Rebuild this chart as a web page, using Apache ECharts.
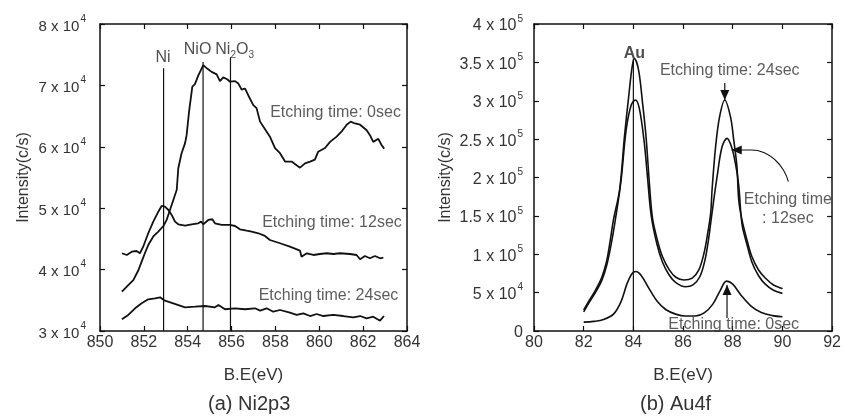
<!DOCTYPE html>
<html>
<head>
<meta charset="utf-8">
<script src="https://cdn.jsdelivr.net/npm/echarts@6/dist/echarts.min.js"></script>
<style>
  html, body { margin: 0; padding: 0; background: #fff; }
  #chart { width: 844px; height: 418px; }
</style>
</head>
<body>
<div id="chart"></div>
<script>
// ---- (a) Ni2p3 spectra: [B.E (eV), intensity (c/s)] ----
const ni0sec = [
  [851.0,36400],[851.3,37500],[851.52,38300],[851.75,39900],[851.9,41300],[852.05,42700],
  [852.2,44000],[852.43,45400],[852.66,46200],[852.89,47100],[853.04,48100],[853.19,49700],
  [853.34,51300],[853.5,53000],[853.57,56500],[853.72,58950],[853.88,60600],[853.95,61900],
  [854.06,65700],[854.21,69800],[854.33,70200],[854.48,71600],[854.71,73300],[854.9,72700],
  [855.09,72200],[855.32,71800],[855.47,70700],[855.62,71300],[855.8,71000],[855.93,70600],
  [856.16,70700],[856.31,70300],[856.46,69300],[856.61,69500],[856.76,68400],[856.99,66800],
  [857.14,66300],[857.3,64100],[857.52,62900],[857.75,61650],[857.98,59800],[858.21,58950],
  [858.44,57600],[858.74,57600],[858.89,57200],[859.12,56600],[859.35,57300],[859.58,57600],
  [859.8,57900],[859.95,59200],[860.26,59800],[860.49,60800],[860.79,61650],[861.02,62500],
  [861.25,63600],[861.43,64100],[861.63,63800],[861.86,63600],[862.16,62700],[862.31,61900],
  [862.46,60800],[862.69,61300],[862.84,60300],[862.96,59700]
];
const ni12sec = [
  [851.0,42660],[851.22,42380],[851.45,42920],[851.67,43030],[851.82,42660],[851.97,43730],
  [852.2,45920],[852.43,47810],[852.66,49430],[852.81,50360],[852.96,50250],[853.12,49710],
  [853.27,48900],[853.42,47810],[853.57,47380],[853.88,47150],[854.18,47380],[854.48,47540],
  [854.61,47810],[854.71,47380],[854.94,48080],[855.12,48200],[855.24,47540],[855.55,47270],
  [855.93,47270],[856.16,47100],[856.38,46570],[856.69,46340],[856.92,46180],[857.22,45920],
  [857.52,45480],[857.75,44820],[858.21,44290],[858.66,43730],[859.12,43080],[859.19,42100],
  [859.43,42660],[859.73,42380],[860.03,42540],[860.34,42660],[860.64,42540],[860.94,42660],
  [861.4,42540],[861.7,42380],[861.86,41680],[862.08,42220],[862.31,41840],[862.54,42220],
  [862.77,41840],[862.92,41940]
];
const ni24sec = [
  [851.0,31900],[851.29,32610],[851.6,33700],[851.9,34510],[852.2,35160],[852.51,35330],
  [852.74,35490],[852.96,34940],[853.34,34510],[853.88,33860],[854.33,33960],[854.79,34070],
  [855.24,33860],[855.4,34240],[855.7,33540],[856.16,33700],[856.61,33540],[857.07,33700],
  [857.3,33310],[857.6,33700],[857.9,33140],[858.21,33420],[858.66,32980],[858.97,32610],
  [859.27,32880],[859.58,32440],[859.88,32770],[860.18,32440],[860.64,32610],[861.09,32440],
  [861.55,32230],[861.86,32440],[862.16,32070],[862.46,32330],[862.77,31680],[862.95,32440]
];
// reference binding energies of the Ni species (line position, line top, label)
const niRefEnergy = [852.9, 854.7, 855.95];
const niRefTop = [72800, 73800, 74600];
const niRefName = ['Ni', 'NiO', 'Ni2O3'];

// ---- (b) Au4f spectra ----
const au0sec = [
  [82.0,11500],[82.4,12500],[82.8,15000],[83.2,22000],[83.5,38000],[83.75,62000],
  [83.95,75000],[84.1,77500],[84.3,73000],[84.6,57000],[84.95,39000],[85.3,28000],
  [85.7,22000],[86.1,19500],[86.5,19500],[86.85,23500],[87.2,35000],[87.5,53000],
  [87.75,65000],[88.0,61000],[88.35,46000],[88.75,32000],[89.15,24000],[89.6,20000],
  [90.0,18500]
];
const au12sec = [
  [82.0,25000],[82.2,36000],[82.47,50000],[82.73,66000],[82.93,86000],[83.1,112000],
  [83.25,140000],[83.5,195000],[83.71,262000],[83.91,294000],[84.08,301000],[84.24,290000],
  [84.44,245000],[84.57,200000],[84.72,150000],[84.95,113000],[85.17,90000],[85.44,73000],
  [85.71,63000],[86.1,57700],[86.4,60000],[86.68,71000],[86.88,92000],[87.02,118000],
  [87.15,150000],[87.37,201000],[87.57,240000],[87.77,251000],[87.95,240000],[88.11,218000],
  [88.24,190000],[88.37,140000],[88.57,113000],[88.77,90000],[89.04,72000],[89.31,61000],
  [89.64,53000],[90.0,49000]
];
const au24sec = [
  [82.0,27400],[82.2,38500],[82.47,53000],[82.73,70000],[82.93,92000],[83.07,118000],
  [83.2,145000],[83.45,185000],[83.64,253000],[83.81,305000],[83.95,344000],[84.04,355000],
  [84.21,340000],[84.37,297000],[84.51,253000],[84.65,190000],[84.77,147000],[84.97,118000],
  [85.17,97000],[85.44,80000],[85.71,70000],[86.04,66500],[86.37,69000],[86.64,80000],
  [86.84,101000],[86.97,123000],[87.11,153000],[87.17,185000],[87.31,240000],[87.47,279000],
  [87.68,301000],[87.91,279000],[88.04,249000],[88.17,214000],[88.24,171000],[88.37,145000],
  [88.57,119000],[88.77,97000],[89.04,79500],[89.31,69000],[89.64,60000],[89.97,55600],
  [90.0,55000]
];
const auRefEnergy = 84.0;
const auRefTop = 355000;

// ---- tick labels: [mantissa, power of ten] ----
const niYTickLabels = [['3','4'],['4','4'],['5','4'],['6','4'],['7','4'],['8','4']];
const auYTickLabels = [['0',''],['5','4'],['1','5'],['1.5','5'],['2','5'],['2.5','5'],['3','5'],['3.5','5'],['4','5']];

const INK = '#111';
const TXT = '#333';
const FONT = '"Liberation Sans", Arial, sans-serif';

function sciFormatter(labels) {
  return function (value, index) {
    const t = labels[index];
    if (!t) return '';
    return t[1] ? '{m|' + t[0] + ' x 10}{e|' + t[1] + '}' : '{m|' + t[0] + '}';
  };
}
function sciRich(size) {
  return {
    m: { fontSize: size, color: TXT, fontFamily: FONT, lineHeight: 20, verticalAlign: 'bottom' },
    e: { fontSize: 10, color: TXT, fontFamily: FONT, lineHeight: 20, verticalAlign: 'top', padding: [0, 0, 0, 1] }
  };
}

const axisLineStyle = { color: INK, width: 1.5 };

function xAx(grid, min, max, pos, showLabel) {
  return {
    type: 'value', gridIndex: grid, min: min, max: max, interval: 2, position: pos,
    axisLine: { show: true, onZero: false, lineStyle: axisLineStyle },
    axisTick: { show: true, inside: true, length: 5, lineStyle: { color: INK, width: 1.2 } },
    axisLabel: { show: showLabel, color: TXT, fontSize: 16, fontFamily: FONT, margin: 4 },
    splitLine: { show: false },
    name: showLabel ? 'B.E(eV)' : '', nameLocation: 'middle', nameGap: 36,
    nameTextStyle: { color: TXT, fontSize: 17, fontFamily: FONT }
  };
}
function yAx(grid, min, max, interval, pos, labels, margin) {
  const showLabel = !!labels;
  return {
    type: 'value', gridIndex: grid, min: min, max: max, interval: interval, position: pos,
    axisLine: { show: true, onZero: false, lineStyle: axisLineStyle },
    axisTick: { show: true, inside: true, length: 5, lineStyle: { color: INK, width: 1.2 } },
    axisLabel: showLabel ? {
      show: true, margin: margin, formatter: sciFormatter(labels),
      rich: sciRich(grid === 0 ? 15 : 16)
    } : { show: false },
    splitLine: { show: false },
    name: showLabel ? 'Intensity(c/s)' : '', nameLocation: 'middle',
    nameGap: grid === 0 ? 68 : 80, nameRotate: 90,
    nameTextStyle: { color: TXT, fontSize: 16, fontFamily: FONT }
  };
}

function curve(data, xi, yi, width, smooth) {
  return {
    type: 'line', xAxisIndex: xi, yAxisIndex: yi, data: data, symbol: 'none', smooth: smooth || false,
    lineStyle: { color: INK, width: width }, silent: true, animation: false, z: 3
  };
}
function refLine(x, top, xi, yi) {
  return {
    type: 'line', xAxisIndex: xi, yAxisIndex: yi, symbol: 'none', animation: false, silent: true,
    lineStyle: { color: INK, width: 1.2 }, z: 2,
    data: [[x, xi === 0 ? 30000 : 0], [x, top]]
  };
}
function textMark(xi, yi, x, y, text, extra) {
  return {
    type: 'scatter', xAxisIndex: xi, yAxisIndex: yi, symbolSize: 0, silent: true, animation: false, z: 5,
    data: [{ value: [x, y] }],
    label: Object.assign({
      show: true, position: 'inside', formatter: text, color: TXT, fontSize: 16, fontFamily: FONT
    }, extra || {})
  };
}
function arrow(xi, yi, from, to, rotate, offset) {
  return {
    type: 'line', xAxisIndex: xi, yAxisIndex: yi, animation: false, silent: true, z: 4,
    lineStyle: { color: INK, width: 1.2 }, showSymbol: true, symbol: 'triangle',
    itemStyle: { color: INK },
    data: [
      { value: from, symbol: 'none' },
      { value: to, symbol: 'triangle', symbolSize: [9, 10], symbolRotate: rotate, symbolOffset: offset }
    ]
  };
}

// chemical formula as rich text, digits set as subscripts
const formulaRich = {
  n: { fontSize: 16, color: '#222', fontFamily: FONT, lineHeight: 16, verticalAlign: 'top' },
  s: { fontSize: 10, color: '#222', fontFamily: FONT, lineHeight: 10, verticalAlign: 'top', padding: [8, 0, 0, 0] }
};
function formula(name) {
  return name.split(/(\d)/).filter(Boolean)
    .map(p => /\d/.test(p) ? '{s|' + p + '}' : '{n|' + p + '}').join('');
}

// label anchors for the reference lines (label centre in data units)
const niLabelX = [852.87, 854.45, 856.14];
const niLabelY = [74470, 75770, 75770];

const series = [
  curve(ni0sec, 0, 0, 1.8),
  curve(ni12sec, 0, 0, 1.8),
  curve(ni24sec, 0, 0, 1.8),
  refLine(niRefEnergy[0], niRefTop[0], 0, 0),
  refLine(niRefEnergy[1], niRefTop[1], 0, 0),
  refLine(niRefEnergy[2], niRefTop[2], 0, 0),
  textMark(0, 0, niLabelX[0], niLabelY[0], formula(niRefName[0]), { rich: formulaRich }),
  textMark(0, 0, niLabelX[1], niLabelY[1], formula(niRefName[1]), { rich: formulaRich }),
  textMark(0, 0, niLabelX[2], niLabelY[2], formula(niRefName[2]), { rich: formulaRich }),
  textMark(0, 0, 860.74, 65500, 'Etching time: 0sec'),
  textMark(0, 0, 860.58, 47600, 'Etching time: 12sec'),
  textMark(0, 0, 860.42, 35700, 'Etching time: 24sec'),

  curve(au0sec, 2, 2, 1.6, 0.35),
  curve(au12sec, 2, 2, 1.6, 0.35),
  curve(au24sec, 2, 2, 1.6, 0.35),
  refLine(auRefEnergy, auRefTop, 2, 2),
  textMark(2, 2, 84.04, 362000, 'Au', { fontWeight: 'bold', color: '#222' }),
  textMark(2, 2, 87.88, 339400, 'Etching time: 24sec'),
  textMark(2, 2, 90.22, 159000, 'Etching time\n: 12sec', { lineHeight: 19, align: 'center' }),
  textMark(2, 2, 88.04, 7800, 'Etching time: 0sec'),
  arrow(2, 2, [87.68, 323000], [87.68, 301000], 180, [0, -5]),
  arrow(2, 2, [87.77, 17000], [87.77, 60000], 0, [0, 5]),
  {
    type: 'line', xAxisIndex: 2, yAxisIndex: 2, smooth: true, symbol: 'none', animation: false, silent: true,
    lineStyle: { color: INK, width: 1.1 }, z: 4,
    data: [[88.0,235800],[88.77,235800],[89.31,231500],[89.71,222800],[90.04,209800],[90.24,194500]]
  },
  arrow(2, 2, [88.3, 235800], [87.96, 235800], 90, [5, 0])
];

const chart = echarts.init(document.getElementById('chart'), null, { renderer: 'canvas' });
chart.setOption({
  animation: false,
  backgroundColor: '#fff',
  textStyle: { fontFamily: FONT },
  grid: [
    { left: 100, top: 24, width: 307, height: 307 },
    { left: 534, top: 24, width: 300, height: 307 }
  ],
  xAxis: [
    xAx(0, 850, 864, 'bottom', true),
    xAx(0, 850, 864, 'top', false),
    xAx(1, 80, 92, 'bottom', true),
    xAx(1, 80, 92, 'top', false)
  ],
  yAxis: [
    yAx(0, 30000, 80000, 10000, 'left', niYTickLabels, 14),
    yAx(0, 30000, 80000, 10000, 'right', null, 0),
    yAx(1, 0, 400000, 50000, 'left', auYTickLabels, 11),
    yAx(1, 0, 400000, 50000, 'right', null, 0)
  ],
  graphic: [
    { type: 'text', left: 208, top: 394, style: { text: '(a) Ni2p3', fill: TXT, fontSize: 20, fontFamily: FONT } },
    { type: 'text', left: 640, top: 394, style: { text: '(b) Au4f', fill: TXT, fontSize: 20, fontFamily: FONT } }
  ],
  series: series
});
</script>
</body>
</html>
